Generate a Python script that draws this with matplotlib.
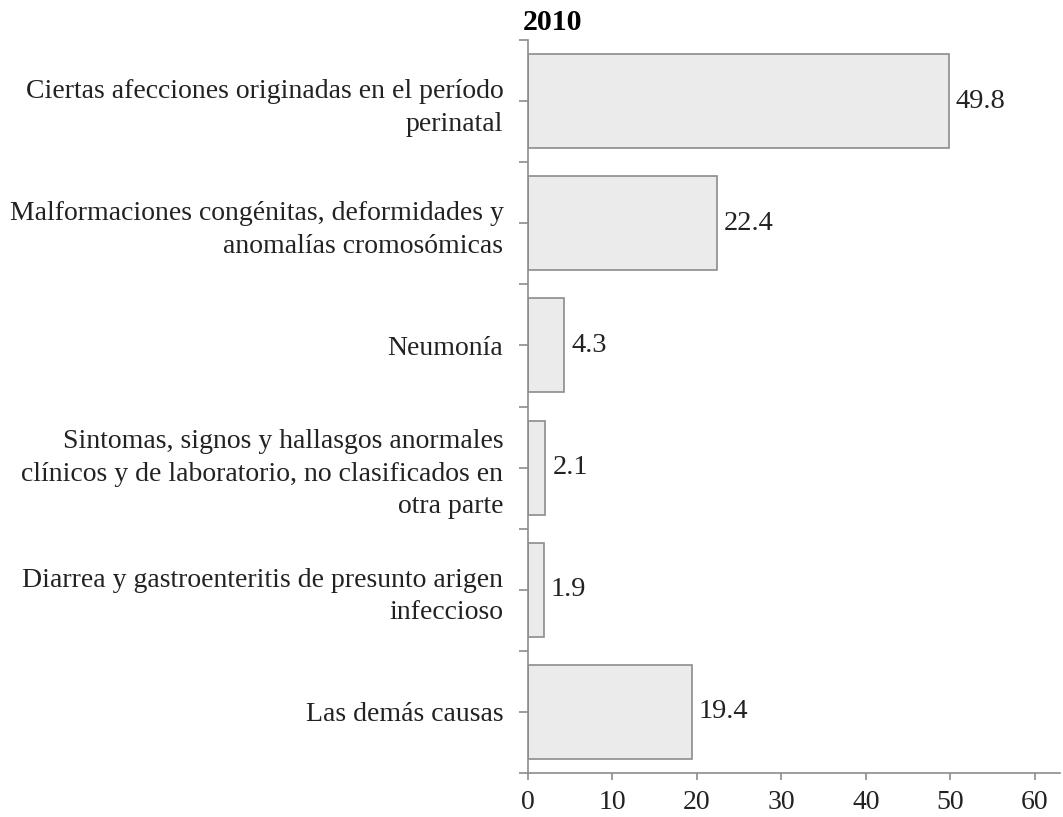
import matplotlib
matplotlib.use("Agg")
import matplotlib.pyplot as plt
import numpy as np

categories = [
    "Ciertas afecciones originadas en el período\nperinatal",
    "Malformaciones congénitas, deformidades y\nanomalías cromosómicas",
    "Neumonía",
    "Sintomas, signos y hallasgos anormales\nclínicos y de laboratorio, no clasificados en\notra parte",
    "Diarrea y gastroenteritis de presunto arigen\ninfeccioso",
    "Las demás causas",
]
values = [49.8, 22.4, 4.3, 2.1, 1.9, 19.4]
value_labels = ["49.8", "22.4", "4.3", "2.1", "1.9", "19.4"]
xticks = [0, 10, 20, 30, 40, 50, 60]
title = "2010"

plt.rcParams['font.family'] = ['Liberation Serif', 'DejaVu Serif']

W, H = 1063, 817
fig = plt.figure(figsize=(W/100, H/100), dpi=100)
x0, x60, xr = 527.7, 1035.0, 1060.0
ytop, ybot = 40.0, 773.0
ax = fig.add_axes([x0/W, 1-ybot/H, (xr-x0)/W, (ybot-ytop)/H])

n = len(categories)
pos = np.arange(n)
ax.barh(pos, values, height=0.77, color="#ebebeb", edgecolor="#8c8c8c", linewidth=1.2)
ax.set_ylim(n - 0.5, -0.5)
ax.set_xlim(0, 60 * (xr - x0) / (x60 - x0))

for p, v, s in zip(pos, values, value_labels):
    ax.annotate(s, (v, p), xytext=(5, 0), textcoords="offset points",
                va="center", ha="left", fontsize=20.5, color="#222222")

ax.set_yticks(pos)
ax.set_yticklabels(categories, fontsize=20, color="#222222", linespacing=1.4)
ax.set_yticks(np.arange(-0.5, n, 1.0), minor=True)
ax.tick_params(axis="y", which="major", length=6.5, color="#8c8c8c", width=1.2, pad=11)
ax.tick_params(axis="y", which="minor", length=6.5, color="#8c8c8c", width=1.2)

ax.set_xticks(xticks)
ax.set_xticklabels([str(t) for t in xticks], fontsize=20, color="#222222")
ax.tick_params(axis="x", length=5, color="#8c8c8c", width=1.2, pad=7.5)

for side in ["top", "right"]:
    ax.spines[side].set_visible(False)
for side in ["left", "bottom"]:
    ax.spines[side].set_color("#8c8c8c")
    ax.spines[side].set_linewidth(1.2)

fig.text(552/W, 1-23/H, title, ha="center", va="center", fontsize=21.5, fontweight="bold", color="black")

fig.savefig("out.png", dpi=100)
